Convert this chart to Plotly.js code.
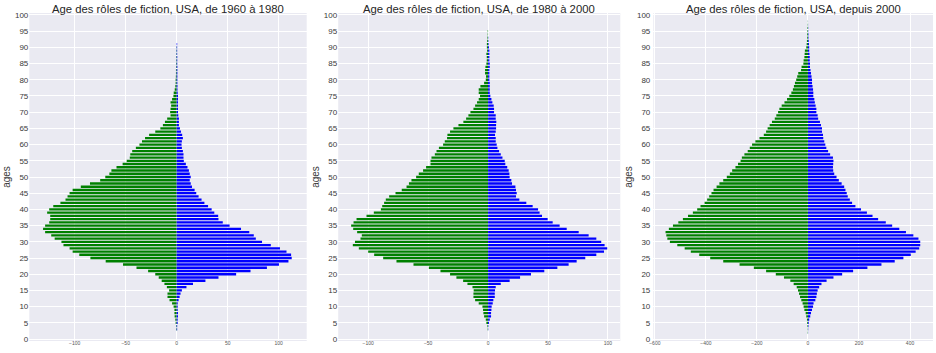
<!DOCTYPE html>
<html>
<head>
<meta charset="utf-8">
<script src="https://cdn.plot.ly/plotly-3.0.1.min.js"></script>
<style>html,body{margin:0;padding:0;background:#fff;}#chart{width:936px;height:353px;}</style>
</head>
<body>
<div id="chart"></div>
<script>
// ages 0..100
const ages = Array.from({length: 101}, (_, i) => i);

const titles = [
  "Age des rôles de fiction, USA, de 1960 à 1980",
  "Age des rôles de fiction, USA, de 1980 à 2000",
  "Age des rôles de fiction, USA, depuis 2000"
];

// 1960-1980 : green (left, negative) and blue (right)
const vert1 = [0,0,0,-0.5,-0.5,-1,-1.3,-2,-2.2,-2.2,
  -3,-4.5,-7,-9,-9,-7.4,-9.6,-12,-14.7,-17.6,
  -21,-28,-39.4,-52.6,-69.6,-84.6,-95.5,-102,-105,-111,
  -113,-119.6,-123,-129,-131,-129,-125,-124,-124,-127,
  -125,-121,-114,-109,-107,-105,-102,-94,-85,-75,
  -70,-66,-64,-59,-53,-49,-46,-45.5,-43.6,-40,
  -36.5,-34,-31,-27,-21,-16,-13.5,-11.5,-9.3,-6,
  -6.4,-6,-5.4,-6,-4.5,-3.2,-2.9,-1.9,-1.3,-1,
  -1,-0.8,-0.7,-0.7,-0.6,-0.6,-0.5,-0.5,-0.4,-0.4,
  -0.3,0,0,0,0,0,0,0,0,0,0];
const bleu1 = [0,0,0,0.5,0.5,1,1,1.3,1.3,1,
  1,1,1.9,2.9,3.8,5.1,9.6,16,28.2,41,
  58.3,72.4,88.5,100.3,109.6,112.8,112.2,107.7,101.3,92.3,
  83.7,77.6,75.6,71.2,63.1,51.9,45.2,41,40.7,36.9,
  34.3,30.8,27.2,24.4,21.5,19.2,17.6,15,13.8,12.8,
  13.8,12.8,12,10.6,9,7,6.7,6.7,6.1,5.1,
  4.8,5.1,6.1,5.4,4.2,3.2,2.2,2.2,2.2,1.6,
  1.3,1.3,1.3,1.3,1.3,1.3,1,0.8,0.8,0.7,
  0.7,0.7,0.7,0.7,0.7,0.6,0.6,0.6,0.5,0.5,
  0.5,0.5,0,0,0,0,0,0,0,0,0];

// 1980-2000
const vert2 = [0,0,0,-0.3,-0.5,-1.4,-1.9,-3.3,-3.9,-4.2,
  -4.7,-7.8,-10.8,-12.2,-12.2,-12,-13,-17.2,-20.8,-26.4,
  -31.7,-39.7,-49.4,-62.2,-76.4,-87.5,-95,-100,-107.8,-112.8,
  -111,-106.4,-105.3,-109.2,-112.5,-114.2,-112.2,-109.7,-101.4,-95.3,
  -89.4,-88.3,-86.7,-85.3,-82.5,-77.2,-72,-68,-66,-63.9,
  -60,-57.8,-54.2,-51.7,-48,-48,-47.2,-44.4,-43,-41,
  -37.5,-36.1,-34.2,-33.9,-31.7,-28.9,-24.7,-20.6,-18.3,-16.4,
  -14.7,-12.2,-10.8,-9.2,-7.8,-6.7,-7.8,-7.8,-6.4,-3.3,
  -1.9,-1.7,-2.5,-2.5,-2.2,-1.4,-1.1,-1.1,-1.4,-0.8,
  -1,-1,-0.7,-0.5,-0.3,-0.3,0,0,0,0,0];
const bleu2 = [0,0,0,0.2,0.3,0.8,1.4,2.5,2.5,2.8,
  3,3.9,4.4,5.6,5.6,5.8,6.4,10.6,18,26.7,
  35.8,46.9,57.8,67.2,73.9,81.1,90.3,96.7,99.4,97.2,
  94.4,90.3,83.9,75.6,65.6,59.7,53.9,49.7,45,43,
  41.7,37.2,31.9,26.1,23.3,23.9,23.3,22.8,20,19.4,
  18,17.8,17.2,16,14.4,13.9,12,10.6,9.2,7.8,
  7.2,6.4,6.4,5.8,6.4,6.7,6.7,6.9,6.4,6.4,
  5,5,4.7,3.6,2.8,1.9,1.4,1.4,1.4,1.4,
  1.1,1.1,1.1,1.1,1.4,1.4,1.1,1.1,1.1,1.1,
  0.8,0.5,0.3,0.2,0,0,0,0,0,0,0];

// depuis 2000
const vert3 = [0,0,-1,-1,-2,-3,-4,-6.5,-9,-14,
  -17,-21,-26,-31,-35,-39,-44,-56,-69,-94,
  -126,-164,-212,-268,-332,-383,-426,-459,-483,-512,
  -541,-551,-555,-558,-545,-529,-508,-490,-470,-451,
  -434,-421,-405,-395,-387,-378,-370,-358,-347,-332,
  -318,-306,-297,-284,-274,-264,-259,-249,-236,-228,
  -219,-206,-190,-173,-164,-158,-150,-141,-130,-124,
  -117,-112,-103,-92,-82,-73,-65,-59,-55,-51,
  -46,-42,-38,-27,-25,-18,-17,-14,-13,-12,
  -6.5,-5,-4,-3,-3,-2,-2,-1,-0.5,0,0];
const bleu3 = [0,0,0.5,1,2,3,5,9,12,16,
  20,22,29,33,35,38,44,53,73,100,
  134,177,233,288,340,374,403,422,436,440,
  440,433,413,384,358,330,305,275,253,231,
  208,186,173,164,156,152,147,142,132,121,
  112,103,99,98,99,100,98,87,79,72,
  68,64,60,59,55,55,51,47,40,38,
  33,33,30,27,25,21,21,20,18,16,
  16,14,12,10,8,8,7,7,6,5,
  5,4,3,2,2,1,1,0.5,0.3,0,0];

const xTicks = [[-100,-50,0,50,100],[-100,-50,0,50,100],[-600,-400,-200,0,200,400]];
const xRanges = [[-144.5,127.5],[-125,110.3],[-606,490]];

const W = 936, H = 353;
const xDomPx = [[29.3,306.7],[338.2,620.3],[653.3,933]];
const yDom = [1-341/H, 1-13/H];

const greens = [vert1, vert2, vert3];
const blues = [bleu1, bleu2, bleu3];

const traces = [];
const layout = {
  width: W, height: H,
  margin: {l:0, r:0, t:0, b:0},
  paper_bgcolor: '#ffffff',
  plot_bgcolor: '#EAEAF2',
  barmode: 'overlay',
  showlegend: false,
  font: {family: '"Liberation Sans", Arial, sans-serif', color: '#262626'},
  annotations: []
};

for (let k = 0; k < 3; k++) {
  const s = k === 0 ? '' : String(k+1);
  const common = {
    type: 'bar', orientation: 'h', y: ages, width: 0.72,
    xaxis: 'x' + s, yaxis: 'y' + s, hoverinfo: 'skip'
  };
  traces.push(Object.assign({}, common, {
    x: greens[k], marker: {color: '#008000', line: {width: 0}}
  }));
  traces.push(Object.assign({}, common, {
    x: blues[k], marker: {color: '#0000FF', line: {width: 0}}
  }));
  layout['xaxis' + s] = {
    domain: [xDomPx[k][0]/W, xDomPx[k][1]/W],
    anchor: 'y' + s,
    range: xRanges[k],
    tickvals: xTicks[k],
    ticks: '', showline: false, zeroline: false,
    showgrid: true, gridcolor: '#ffffff', gridwidth: 1,
    tickfont: {size: 5, color: '#555555'},
    ticklabelstandoff: -2
  };
  layout['yaxis' + s] = {
    domain: yDom,
    anchor: 'x' + s,
    range: [-0.6, 100.6],
    tickmode: 'linear', tick0: 0, dtick: 5,
    ticks: '', showline: false, zeroline: false,
    showgrid: true, gridcolor: '#ffffff', gridwidth: 1,
    tickfont: {size: 8, color: '#3a3a3a'},
    ticklabelstandoff: k === 2 ? 2 : 0,
    title: {text: 'ages', font: {size: 10, color: '#3a3a3a'}, standoff: 2}
  };
  layout.annotations.push({
    text: titles[k], xref: 'paper', yref: 'paper',
    x: (xDomPx[k][0] + xDomPx[k][1]) / 2 / W, y: 1 - 9.5/H,
    xanchor: 'center', yanchor: 'middle', showarrow: false,
    font: {size: 11.3, color: '#262626'}
  });
}

Plotly.newPlot('chart', traces, layout, {staticPlot: true, displayModeBar: false});
</script>
</body>
</html>
